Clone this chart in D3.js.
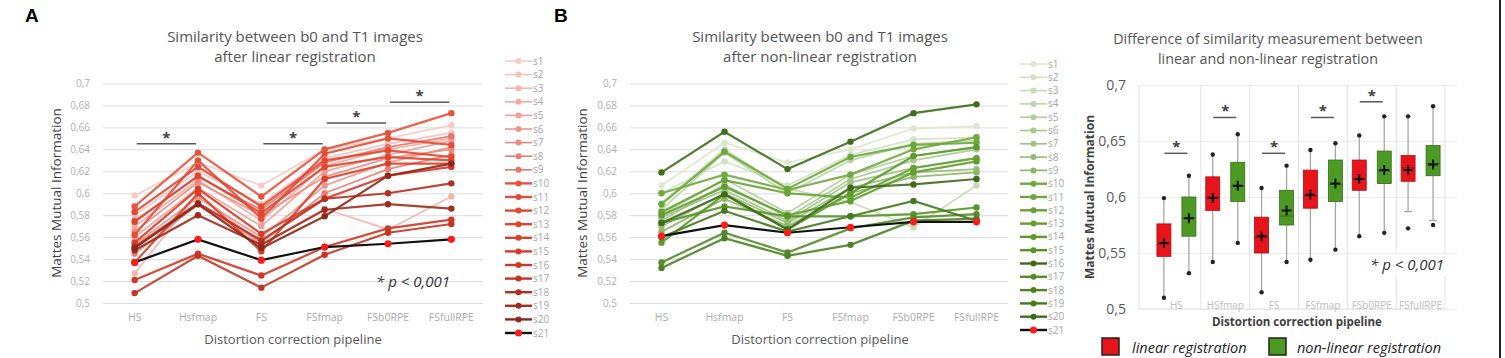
<!DOCTYPE html>
<html>
<head>
<meta charset="utf-8">
<script src="https://cdn.jsdelivr.net/npm/d3@7"></script>
<style>
  body { margin: 0; background: #fff; }
  svg  { display: block; font-family: 'Open Sans', sans-serif; }
</style>
</head>
<body>
<svg id="fig" width="1505" height="358"></svg>
<script>
// --- data ---
const pipelines  = ['HS', 'Hsfmap', 'FS', 'FSfmap', 'FSb0RPE', 'FSfullRPE']
const pipelinesC = ['HS', 'HSfmap', 'FS', 'FSfmap', 'FSb0RPE', 'FSfullRPE']
const subjects = ['s1','s2','s3','s4','s5','s6','s7','s8','s9','s10','s11',
                  's12','s13','s14','s15','s16','s17','s18','s19','s20','s21']
const yTicksLine = [0.5, 0.52, 0.54, 0.56, 0.58, 0.6, 0.62, 0.64, 0.66, 0.68, 0.7]
const yTicksBox  = [0.5, 0.55, 0.6, 0.65, 0.7]

// panel A: linear registration, one row per subject
const linearMI = [
  [0.598, 0.628, 0.607, 0.640, 0.650, 0.662],
  [0.580, 0.620, 0.590, 0.632, 0.645, 0.655],
  [0.527, 0.600, 0.553, 0.586, 0.567, 0.597],
  [0.570, 0.612, 0.575, 0.625, 0.640, 0.650],
  [0.560, 0.605, 0.570, 0.620, 0.635, 0.648],
  [0.553, 0.596, 0.560, 0.607, 0.628, 0.642],
  [0.565, 0.610, 0.580, 0.615, 0.632, 0.640],
  [0.545, 0.590, 0.555, 0.600, 0.622, 0.635],
  [0.575, 0.615, 0.585, 0.628, 0.642, 0.652],
  [0.588, 0.637, 0.597, 0.640, 0.655, 0.673],
  [0.562, 0.630, 0.577, 0.636, 0.650, 0.644],
  [0.583, 0.624, 0.588, 0.630, 0.639, 0.633],
  [0.574, 0.616, 0.582, 0.624, 0.633, 0.630],
  [0.537, 0.600, 0.547, 0.613, 0.627, 0.627],
  [0.555, 0.604, 0.563, 0.595, 0.616, 0.624],
  [0.521, 0.545, 0.525, 0.551, 0.568, 0.576],
  [0.509, 0.543, 0.514, 0.544, 0.564, 0.572],
  [0.551, 0.591, 0.557, 0.595, 0.600, 0.609],
  [0.548, 0.580, 0.553, 0.585, 0.590, 0.586],
  [0.550, 0.590, 0.550, 0.579, 0.616, 0.627],
  [0.537, 0.558, 0.539, 0.551, 0.554, 0.558]
]

// panel B: non-linear registration
const nonlinearMI = [
  [0.607, 0.646, 0.628, 0.640, 0.659, 0.661],
  [0.600, 0.629, 0.607, 0.635, 0.649, 0.651],
  [0.591, 0.640, 0.604, 0.592, 0.569, 0.607],
  [0.585, 0.637, 0.600, 0.630, 0.645, 0.648],
  [0.581, 0.613, 0.582, 0.617, 0.634, 0.642],
  [0.575, 0.608, 0.578, 0.613, 0.630, 0.640],
  [0.578, 0.603, 0.575, 0.610, 0.623, 0.632],
  [0.570, 0.600, 0.573, 0.605, 0.619, 0.622],
  [0.565, 0.595, 0.570, 0.600, 0.615, 0.619],
  [0.600, 0.617, 0.603, 0.617, 0.640, 0.651],
  [0.590, 0.638, 0.604, 0.633, 0.644, 0.646],
  [0.583, 0.612, 0.600, 0.596, 0.623, 0.632],
  [0.580, 0.606, 0.580, 0.593, 0.619, 0.629],
  [0.555, 0.599, 0.567, 0.600, 0.634, 0.642],
  [0.573, 0.588, 0.579, 0.579, 0.581, 0.587],
  [0.573, 0.599, 0.567, 0.605, 0.608, 0.613],
  [0.537, 0.564, 0.546, 0.568, 0.578, 0.581],
  [0.532, 0.559, 0.543, 0.553, 0.575, 0.577],
  [0.560, 0.584, 0.565, 0.579, 0.593, 0.575],
  [0.619, 0.656, 0.622, 0.647, 0.673, 0.681],
  [0.561, 0.571, 0.564, 0.569, 0.574, 0.574]
]

const redShades = ['#f8cbc7','#f6c0bb','#f4b5af','#f2aaa3','#f09f97','#ee948b','#ec897f','#ea7e73','#e87367',
                   '#e5533d','#e24e38','#e04933','#dd452f','#da402b','#d53b27','#ce3825','#c43523','#b33120','#9f2c1d','#8b281a','#111111']
const greenShades = ['#dbe7cf','#d1e1c3','#c7dab6','#bdd4a9','#b3ce9c','#a9c88f','#9fc282','#95bb75','#8bb568',
                     '#70aa3e','#6ba639','#66a234','#619e2f','#5c9a2a','#579526','#3f6a1c','#558c29','#4d8224','#45781f','#3e6e1b','#111111']

// boxplot summaries (panel C)
const linMax  = [0.599, 0.638, 0.608, 0.642, 0.655, 0.672]
const linQ3   = [0.576, 0.618, 0.582, 0.624, 0.633, 0.637]
const linMed  = [0.558, 0.600, 0.564, 0.601, 0.616, 0.626]
const linMean = [0.559, 0.599, 0.565, 0.602, 0.616, 0.624]
const linQ1   = [0.547, 0.588, 0.550, 0.590, 0.606, 0.614]
const linMin  = [0.510, 0.542, 0.515, 0.544, 0.565, 0.587]
const linOut  = [null, null, null, null, null, 0.572]
const nlMax   = [0.619, 0.656, 0.628, 0.648, 0.672, 0.681]
const nlQ3    = [0.600, 0.631, 0.606, 0.633, 0.641, 0.646]
const nlMed   = [0.581, 0.610, 0.583, 0.611, 0.623, 0.630]
const nlMean  = [0.581, 0.610, 0.588, 0.612, 0.624, 0.629]
const nlQ1    = [0.565, 0.596, 0.575, 0.596, 0.612, 0.619]
const nlMin   = [0.532, 0.559, 0.542, 0.553, 0.568, 0.579]
const nlOut   = [null, null, null, null, null, 0.575]

// significance brackets: [from, to, height]
const sigA = [[0, 1, 0.645], [2, 3, 0.645], [3, 4, 0.664], [4, 5, 0.683]]
const sigC = [[0, 0.639], [1, 0.671], [2, 0.639], [3, 0.671], [4, 0.685]]

const svg = d3.select('#fig')
const comma = v => String(v).replace('.', ',')

// right frame edge
svg.append('line').attr('x1', 1500).attr('x2', 1500).attr('y1', 0).attr('y2', 358)
  .attr('stroke', '#222').attr('stroke-width', 2)

function title(x, lines, y0, size) {
  lines.forEach((t, i) => {
    svg.append('text').attr('x', x).attr('y', y0 + i * 20)
      .attr('text-anchor', 'middle').attr('font-size', size).attr('fill', '#555').text(t)
  })
}

function linePanel(cfg) {
  const g = svg.append('g')
  const x = d3.scaleBand().domain(pipelines).range(cfg.xr)
  const y = d3.scaleLinear().domain([0.5, 0.7]).range([303, 83.5])
  const cx = d => x(d) + x.bandwidth() / 2

  // grid + y labels
  const ya = g.append('g').attr('transform', `translate(${cfg.xr[0]},0)`)
    .call(d3.axisLeft(y).tickValues(yTicksLine).tickFormat(comma)
      .tickSize(-(cfg.xr[1] - cfg.xr[0])).tickPadding(13))
  ya.select('.domain').remove()
  ya.selectAll('line').attr('stroke', '#dcdcdc')
  ya.selectAll('text').attr('font-size', 10).attr('fill', '#b0b0b0').attr('font-family', 'Open Sans')

  const xa = g.append('g').attr('transform', 'translate(0,303)')
    .call(d3.axisBottom(x).tickSize(0).tickPadding(11))
  xa.select('.domain').remove()
  xa.selectAll('text').attr('font-size', 10.5).attr('fill', '#ababab').attr('font-family', 'Open Sans')

  g.append('text').attr('x', cfg.xtx).attr('y', 344)
    .attr('text-anchor', 'middle').attr('font-size', 13).attr('fill', '#595959')
    .text('Distortion correction pipeline')
  g.append('text').attr('transform', `translate(${cfg.ytx},193) rotate(-90)`)
    .attr('text-anchor', 'middle').attr('font-size', 13.5).attr('fill', '#404040')
    .text('Mattes Mutual Information')

  const line = d3.line().x((d, i) => cx(pipelines[i])).y(d => y(d))
  cfg.data.forEach((row, s) => {
    const last = s === 20
    const col = cfg.colors[s]
    g.append('path').datum(row).attr('d', line).attr('fill', 'none')
      .attr('stroke', col).attr('stroke-width', s < 9 ? 1.8 : 2.2)
      .attr('stroke-opacity', last ? 1 : 0.9)
    g.selectAll(null).data(row).enter().append('circle')
      .attr('cx', (d, i) => cx(pipelines[i])).attr('cy', d => y(d))
      .attr('r', last ? 3.6 : 3.2).attr('fill', last ? '#ff1a1a' : col)
  })

  // significance bars
  ;(cfg.sig || []).forEach(([a, b, v]) => {
    g.append('line').attr('x1', cx(pipelines[a]) + 2).attr('x2', cx(pipelines[b]) - 2)
      .attr('y1', y(v)).attr('y2', y(v)).attr('stroke', '#595959').attr('stroke-width', 1.5)
    g.append('text').attr('x', (cx(pipelines[a]) + cx(pipelines[b])) / 2).attr('y', y(v) - 1)
      .attr('text-anchor', 'middle').attr('font-size', 15).attr('font-weight', 'bold')
      .attr('fill', '#404040').text('*')
  })

  // legend
  const lg = g.append('g')
  subjects.forEach((s, i) => {
    const ly = cfg.leg.y0 + i * cfg.leg.dy
    const last = i === 20
    lg.append('line').attr('x1', cfg.leg.x).attr('x2', cfg.leg.x + 27).attr('y1', ly).attr('y2', ly)
      .attr('stroke', cfg.colors[i]).attr('stroke-width', i < 9 ? 1.6 : 2.4)
    lg.append('circle').attr('cx', cfg.leg.x + 13.5).attr('cy', ly).attr('r', last ? 3.5 : 3)
      .attr('fill', last ? '#ff1a1a' : cfg.colors[i])
    lg.append('text').attr('x', cfg.leg.x + 28).attr('y', ly + 3.5)
      .attr('font-size', 10).attr('fill', '#a6a6a6').text(s)
  })
  return y
}

// --- panel A ---
svg.append('text').attr('x', 25).attr('y', 22).attr('font-size', 19).attr('font-weight', 'bold')
  .attr('font-family', 'Liberation Sans, Arial').text('A')
title(295, ['Similarity between b0 and T1 images', 'after linear registration'], 42, 15)
linePanel({ xr: [103, 483], ytx: 61, xtx: 293, data: linearMI, colors: redShades, sig: sigA,
  leg: { x: 505, y0: 61, dy: 13.6 } })
svg.append('text').attr('x', 450).attr('y', 287).attr('text-anchor', 'end')
  .attr('font-size', 15).attr('font-style', 'italic').attr('fill', '#333').text('* p < 0,001')

// --- panel B ---
svg.append('text').attr('x', 554).attr('y', 22).attr('font-size', 19).attr('font-weight', 'bold')
  .attr('font-family', 'Liberation Sans, Arial').text('B')
title(820, ['Similarity between b0 and T1 images', 'after non-linear registration'], 42, 15)
linePanel({ xr: [630, 1008], ytx: 587, xtx: 820, data: nonlinearMI, colors: greenShades,
  leg: { x: 1020, y0: 64, dy: 13.3 } })

// --- panel C: boxplots ---
title(1268, ['Difference of similarity measurement between', 'linear and non-linear registration'], 44, 14.3)
const gc = svg.append('g')
const xc = d3.scaleBand().domain(pipelinesC).range([1152, 1445])
const yc = d3.scaleLinear().domain([0.5, 0.7]).range([309, 85])
const ccx = d => xc(d) + xc.bandwidth() / 2

const yca = gc.append('g').attr('transform', 'translate(1139,0)')
  .call(d3.axisLeft(yc).tickValues(yTicksBox).tickFormat(comma).tickSize(-318).tickPadding(13))
yca.select('.domain').remove()
yca.selectAll('line').attr('stroke', '#eeeeee')
yca.selectAll('text').attr('font-size', 14).attr('fill', '#595959').attr('font-family', 'Open Sans')

// column separators
const seps = [1139].concat(pipelinesC.map(p => xc(p) + xc.bandwidth()))
gc.selectAll(null).data(seps).enter().append('line')
  .attr('x1', d => d).attr('x2', d => d).attr('y1', 85).attr('y2', 309)
  .attr('stroke', '#e2e2e2').attr('stroke-width', 1)
gc.append('line').attr('x1', 1139).attr('x2', 1445).attr('y1', 309).attr('y2', 309)
  .attr('stroke', '#e2e2e2')

gc.selectAll(null).data(pipelinesC).enter().append('text')
  .attr('x', d => ccx(d)).attr('y', 309).attr('text-anchor', 'middle')
  .attr('font-size', 10).attr('fill', '#bdbdbd').text(d => d)

function boxes(stats, off, fill, stroke) {
  pipelinesC.forEach((p, i) => {
    const bx = ccx(p) + off
    gc.append('line').attr('x1', bx).attr('x2', bx).attr('y1', yc(stats.max[i])).attr('y2', yc(stats.q3[i]))
      .attr('stroke', '#a6a6a6').attr('stroke-width', 1.3)
    gc.append('line').attr('x1', bx).attr('x2', bx).attr('y1', yc(stats.q1[i])).attr('y2', yc(stats.min[i]))
      .attr('stroke', '#a6a6a6').attr('stroke-width', 1.3)
    gc.append('rect').attr('x', bx - 7).attr('width', 14)
      .attr('y', yc(stats.q3[i])).attr('height', yc(stats.q1[i]) - yc(stats.q3[i]))
      .attr('fill', fill).attr('stroke', stroke).attr('stroke-width', 0.8)
    gc.append('line').attr('x1', bx - 7).attr('x2', bx + 7).attr('y1', yc(stats.med[i])).attr('y2', yc(stats.med[i]))
      .attr('stroke', stroke).attr('stroke-width', 1)
    // mean marker
    gc.append('path').attr('d', `M${bx - 5},${yc(stats.mean[i])}h10M${bx},${yc(stats.mean[i]) - 5}v10`)
      .attr('stroke', '#111').attr('stroke-width', 2)
    gc.append('circle').attr('cx', bx).attr('cy', yc(stats.max[i])).attr('r', 2.2).attr('fill', '#222')
    if (stats.out[i] == null) {
      gc.append('circle').attr('cx', bx).attr('cy', yc(stats.min[i])).attr('r', 2.2).attr('fill', '#222')
    } else {
      gc.append('line').attr('x1', bx - 4).attr('x2', bx + 4).attr('y1', yc(stats.min[i])).attr('y2', yc(stats.min[i]))
        .attr('stroke', '#a6a6a6').attr('stroke-width', 1.3)
      gc.append('circle').attr('cx', bx).attr('cy', yc(stats.out[i])).attr('r', 2.2).attr('fill', '#222')
    }
  })
}
boxes({ max: linMax, q3: linQ3, med: linMed, mean: linMean, q1: linQ1, min: linMin, out: linOut },
  -12.5, '#e8141c', '#b00d12')
boxes({ max: nlMax, q3: nlQ3, med: nlMed, mean: nlMean, q1: nlQ1, min: nlMin, out: nlOut },
  12.5, '#4c9a23', '#356e17')

sigC.forEach(([i, v]) => {
  const c = ccx(pipelinesC[i])
  gc.append('line').attr('x1', c - 12).attr('x2', c + 11).attr('y1', yc(v)).attr('y2', yc(v))
    .attr('stroke', '#595959').attr('stroke-width', 1.5)
  gc.append('text').attr('x', c).attr('y', yc(v) - 1).attr('text-anchor', 'middle')
    .attr('font-size', 15).attr('font-weight', 'bold').attr('fill', '#404040').text('*')
})

gc.append('rect').attr('x', 1366).attr('y', 254).attr('width', 80).attr('height', 22).attr('fill', '#fff')
gc.append('text').attr('x', 1444).attr('y', 270).attr('text-anchor', 'end')
  .attr('font-size', 15).attr('font-style', 'italic').attr('fill', '#333').text('* p < 0,001')

gc.append('text').attr('x', 1297).attr('y', 326).attr('text-anchor', 'middle')
  .attr('font-size', 11.5).attr('font-weight', 'bold').attr('fill', '#404040')
  .text('Distortion correction pipeline')
gc.append('text').attr('transform', 'translate(1094,197) rotate(-90)').attr('text-anchor', 'middle')
  .attr('font-size', 12).attr('font-weight', 'bold').attr('fill', '#404040')
  .text('Mattes Mutual Information')

// legend
const legC = [['linear registration', '#e8141c', 1102, 1132], ['non-linear registration', '#4c9a23', 1269, 1297]]
legC.forEach(([t, c, rx, tx]) => {
  gc.append('rect').attr('x', rx).attr('y', 338).attr('width', 17).attr('height', 17)
    .attr('fill', c).attr('stroke', '#222').attr('stroke-width', 1.5)
  gc.append('text').attr('x', tx).attr('y', 353).attr('font-size', 14.5)
    .attr('font-style', 'italic').attr('fill', '#222').text(t)
})
</script>
</body>
</html>
